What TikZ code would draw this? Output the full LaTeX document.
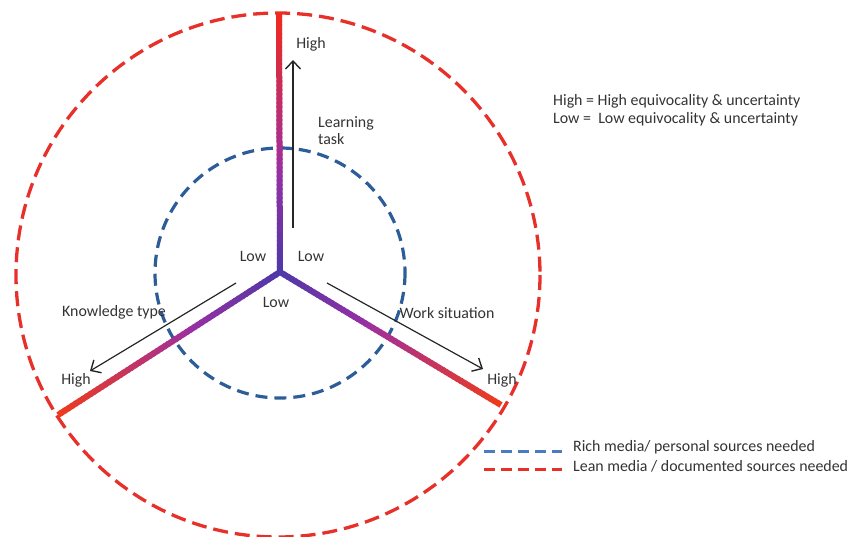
\documentclass[tikz,border=0pt]{standalone}
\usepackage{fontspec}
\setmainfont{Carlito}
\usetikzlibrary{arrows.meta,calc}

\definecolor{redline}{HTML}{E8302A}
\definecolor{blueline}{HTML}{2C5D98}
\definecolor{legblue}{HTML}{4A7CC4}
\definecolor{txt}{HTML}{333333}
\definecolor{ycen}{HTML}{5038A8}
\definecolor{ymid}{HTML}{9C2FA2}
\definecolor{yend}{HTML}{EC2A24}
\definecolor{yendor}{HTML}{EA3A22}

% thick axis whose colour runs from blue-violet (centre) via purple to red (end)
\newcommand\gradientarm[3]{%
  \foreach \k in {0,...,59}{%
    \pgfmathsetmacro\ta{\k/60}%
    \pgfmathsetmacro\tb{min(1,(\k+1.4)/60)}%
    \pgfmathtruncatemacro\pa{min(100,round(240*\k/59))}%
    \pgfmathtruncatemacro\pb{max(0,round(170*\k/59-65))}%
    \colorlet{segc}{ymid!\pa!ycen}%
    \colorlet{segc}{#3!\pb!segc}%
    \draw[segc, line width=6pt] ($(#1)!\ta!(#2)$) -- ($(#1)!\tb!(#2)$);
  }}

\begin{document}
\begin{tikzpicture}[x=1pt,y=-1pt,
  lab/.style={text=txt, font=\fontsize{15.9}{18}\selectfont, inner sep=0pt},
  outerring/.style={redline, line width=3.3pt, dash pattern=on 15pt off 7pt},
  innerring/.style={blueline, line width=3.2pt, dash pattern=on 12pt off 7pt},
  axisarrow/.style={black!85, line width=1.2pt, -{Straight Barb[length=8pt,width=15pt,line width=1.4pt]}}]

\useasboundingbox (0,0) rectangle (857,537);

% centres and axis ends
\coordinate (ring) at (278,275);
\coordinate (o) at (280,272);
\coordinate (top) at (279,13);
\coordinate (lft) at (58,415);
\coordinate (rgt) at (501,405);

% rings
\draw[outerring] (ring) circle[radius=262];
\draw[innerring] (280,273) circle[radius=125];

% the three axes
\gradientarm{o}{top}{yend}
\gradientarm{o}{lft}{yendor}
\gradientarm{o}{rgt}{yendor}
\fill[ycen] (o) circle[radius=3];

% direction arrows
\coordinate (la0) at (293,228);
\coordinate (la1) at (293,60);
\coordinate (ka0) at (236,283);
\coordinate (ka1) at (90,371);
\coordinate (wa0) at (327,283);
\coordinate (wa1) at (483,369);
\draw[axisarrow] (la0) -- (la1);
\draw[axisarrow] (ka0) -- (ka1);
\draw[axisarrow] (wa0) -- (wa1);

% axis labels
\node[lab] (hTop) at (311,44) {High};
\node[lab, anchor=west, align=left] (learn) at (318,131) {Learning\\[-1pt]task};
\node[lab] (lowL) at (253,256) {Low};
\node[lab] (lowR) at (311,256) {Low};
\node[lab] (lowB) at (276,302) {Low};
\node[lab] (know) at (114,312) {Knowledge type};
\node[lab] (hLft) at (76,380) {High};
\node[lab] (work) at (447,313) {Work situation};
\node[lab] (hRgt) at (502,380) {High};

% key
\node[lab, anchor=west] (key1) at (553,101) {High = High equivocality \& uncertainty};
\node[lab, anchor=west] (key2) at (553,119) {Low =\ \ Low equivocality \& uncertainty};

% legend
\coordinate (lb0) at (484,451);
\coordinate (lb1) at (562,451);
\coordinate (lr0) at (484,469);
\coordinate (lr1) at (562,469);
\draw[legblue, line width=3pt, dash pattern=on 11pt off 6pt] (lb0) -- (lb1);
\draw[redline, line width=3pt, dash pattern=on 11pt off 6pt] (lr0) -- (lr1);
\node[lab, anchor=west] (leg1) at (573,447) {Rich media/ personal sources needed};
\node[lab, anchor=west] (leg2) at (573,466) {Lean media / documented sources needed};

\end{tikzpicture}
\end{document}
